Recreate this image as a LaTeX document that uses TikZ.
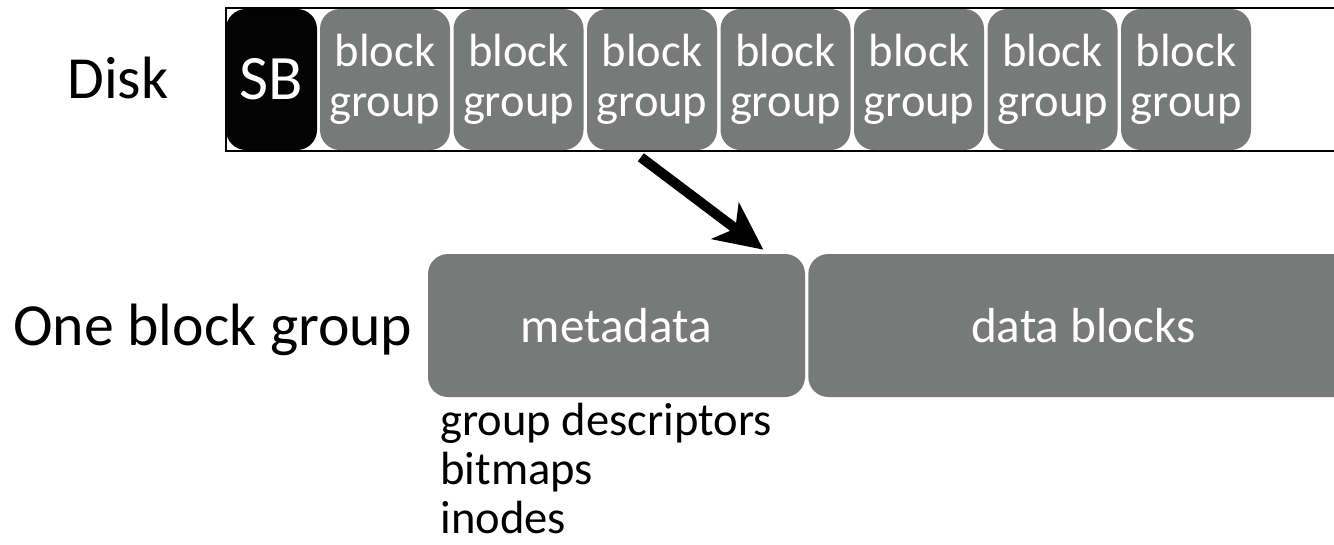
\documentclass[tikz,border=0pt]{standalone}
\usepackage{fontspec}
\setmainfont{Carlito}
\usepackage{xcolor}
\definecolor{bggray}{RGB}{120,121,121}
\definecolor{sbblack}{RGB}{3,3,3}
\usepackage{tikz}
\usetikzlibrary{positioning,arrows.meta,calc}
\tikzstyle{box} = [
    rectangle, text centered,
    rounded corners=0.4cm,
    inner sep=0pt,
    minimum height=2.82cm,
    text=white,
]
\tikzstyle{superblock} = [
    box,
    minimum width=1.82cm,
    fill=sbblack,
    font=\fontsize{36}{40}\selectfont,
]
\tikzstyle{blockgroup} = [
    box,
    minimum width=2.6cm,
    fill=bggray,
    align=center,
    font=\fontsize{26.5}{28.5}\selectfont,
]
\tikzstyle{half} = [
    box,
    minimum height=2.86cm,
    fill=bggray,
    font=\fontsize{28}{32}\selectfont,
]
\tikzstyle{rowname} = [
    inner sep=0pt, anchor=base west,
    font=\fontsize{34}{40}\selectfont,
]
\tikzstyle{listitem} = [
    inner sep=0pt, anchor=base west,
    font=\fontsize{26.5}{28}\selectfont,
]
\tikzstyle{arrow} = [-{Stealth[length=0.95cm,width=0.9cm,inset=0.25cm]}, line width=0.2cm]

\begin{document}
\begin{tikzpicture}
    \useasboundingbox (0,0) rectangle (26.68,-10.88);

    % disk
    \node (disk) at (4.5,-1.59) [anchor=west, draw, line width=1.1pt, inner sep=0pt,
        minimum width=24cm, minimum height=2.86cm] {};
    \node (sb) at (5.43,-1.59) [superblock] {SB};
    \foreach \x in {1,...,7} {
        \node (bg\x) at ({7.70+2.67*(\x-1)}, -1.59) [blockgroup] {block\\group};
    }

    % one block group
    \node (meta) at (12.33,-6.51) [half, minimum width=7.54cm] {metadata};
    \node (data) at (16.16,-6.51) [half, anchor=west, minimum width=11cm] {data blocks};
    \foreach \entry[count=\y] in {group descriptors,bitmaps,inodes} {
        \node (desc\y) at (8.8, {-8.70-0.98*(\y-1)}) [listitem] {\entry};
    }

    % row names
    \node (disklabel) at (1.34,-1.96) [rowname] {Disk};
    \node (grouplabel) at (0.26,-6.90) [rowname] {One block group};

    % arrow
    \draw [arrow, shorten <=0.23cm] (bg3.254) to ([xshift=-0.84cm,yshift=0.08cm]meta.north east);

\end{tikzpicture}
\end{document}
